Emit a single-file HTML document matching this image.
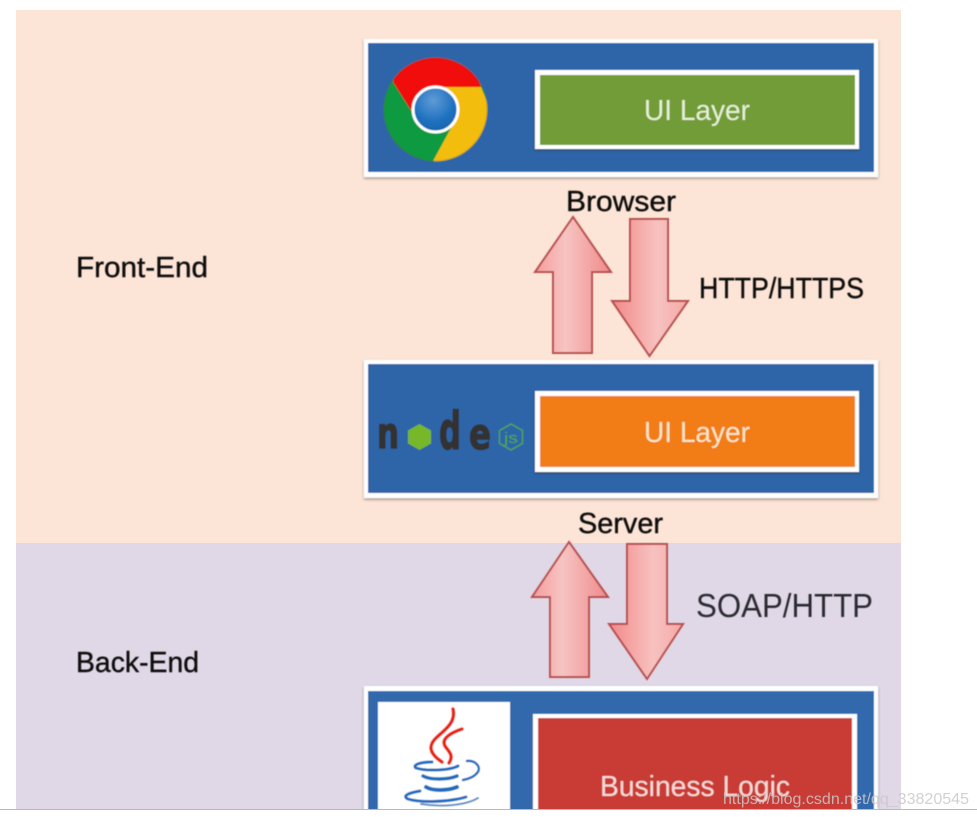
<!DOCTYPE html>
<html>
<head>
<meta charset="utf-8">
<style>
html,body{margin:0;padding:0;background:#fff;width:977px;height:817px;overflow:hidden}
svg{display:block}
text{font-family:"Liberation Sans",sans-serif}
</style>
</head>
<body>
<svg width="977" height="817" viewBox="0 0 977 817" xmlns="http://www.w3.org/2000/svg">
<defs>
<linearGradient id="au" x1="0" x2="1" y1="0" y2="0"><stop offset="0" stop-color="#f59c9c"/><stop offset=".4" stop-color="#f6c4c2"/><stop offset="1" stop-color="#f08a8a"/></linearGradient>
<linearGradient id="ad" x1="0" x2="1" y1="0" y2="0"><stop offset="0" stop-color="#f28888"/><stop offset=".6" stop-color="#f7c2c0"/><stop offset="1" stop-color="#f5a8a6"/></linearGradient>
<radialGradient id="bl" cx=".45" cy=".3" r=".8"><stop offset="0" stop-color="#5f9bd6"/><stop offset=".6" stop-color="#1c70bf"/><stop offset="1" stop-color="#1560a8"/></radialGradient>
<filter id="softer" x="-5%" y="-5%" width="110%" height="110%"><feGaussianBlur stdDeviation="0.55"/></filter>
<filter id="sh" x="-5%" y="-5%" width="110%" height="115%"><feDropShadow dx="0" dy="1.5" stdDeviation="1.2" flood-color="#333" flood-opacity=".5"/></filter>
<clipPath id="cc"><circle cx="435.5" cy="109.5" r="52"/></clipPath>
</defs>

<rect x="16" y="10" width="885" height="533" fill="#fce4d6"/>
<rect x="16" y="543" width="885" height="266" fill="#e0d8e6"/>

<g filter="url(#softer)">
<!-- Box 1 -->
<rect x="364" y="39" width="514" height="138" fill="#fff" filter="url(#sh)"/>
<rect x="368" y="43" width="506" height="129" fill="#2e65a9"/>
<rect x="535" y="70" width="324" height="79" fill="#fff" filter="url(#sh)"/>
<rect x="540" y="75" width="315" height="70" fill="#729c37"/>

<!-- Chrome logo -->
<g clip-path="url(#cc)">
<rect x="380" y="55" width="112" height="112" fill="#0f9a3f"/>
<polygon points="393,82 412,112 436,87 481,87 470,50 400,50" fill="#f20d0d"/>
<polygon points="436,87 481,87 495,120 480,170 433,161 451,128" fill="#f2bd07"/>
</g>
<circle cx="435.5" cy="109.5" r="51.5" fill="none" stroke="#7a5a10" stroke-opacity=".3" stroke-width="1"/>
<circle cx="435.5" cy="109.5" r="22.5" fill="url(#bl)" stroke="#fff" stroke-width="3"/>

<!-- Box 2 -->
<rect x="364" y="360" width="514" height="138" fill="#fff" filter="url(#sh)"/>
<rect x="368" y="364" width="506" height="129" fill="#2e65a9"/>
<rect x="535" y="391" width="324" height="81" fill="#fff" filter="url(#sh)"/>
<rect x="540" y="396" width="315" height="71" fill="#f27c14"/>

<!-- Node logo -->
<text x="377" y="448" font-size="43" font-weight="700" fill="#333" stroke="#333" stroke-width="1.5" textLength="22" lengthAdjust="spacingAndGlyphs" style="font-family:'DejaVu Sans',sans-serif">n</text>
<polygon points="419.5,424 431,430.5 431,443.5 419.5,450 408,443.5 408,430.5" fill="#76b82a"/>
<text x="439" y="449" font-size="52" font-weight="700" fill="#333" stroke="#333" stroke-width="1.5" textLength="22" lengthAdjust="spacingAndGlyphs" style="font-family:'DejaVu Sans',sans-serif">d</text>
<text x="469" y="449" font-size="43" font-weight="700" fill="#333" stroke="#333" stroke-width="1.5" textLength="22" lengthAdjust="spacingAndGlyphs" style="font-family:'DejaVu Sans',sans-serif">e</text>
<polygon points="511,424 522.5,430.5 522.5,443.5 511,450 499.5,443.5 499.5,430.5" fill="none" stroke="#4fa84a" stroke-width="1.3"/>
<text x="504" y="443" font-size="15" fill="#4fa84a" textLength="14" lengthAdjust="spacingAndGlyphs">js</text>

<!-- Box 3 -->
<rect x="364" y="686" width="514" height="140" fill="#fff" filter="url(#sh)"/>
<rect x="368" y="691" width="506" height="130" fill="#3169ad"/>
<rect x="378" y="702" width="132" height="120" fill="#fff"/>
<rect x="533" y="714" width="324" height="110" fill="#fff"/>
<rect x="538" y="718" width="314" height="105" fill="#c93a34"/>

<!-- Java logo -->
<g fill="none" stroke="#e8210f" stroke-linecap="round">
<path d="M453,709 C456,722 446,729 437,737 C427,746 430,754 442,762" stroke-width="3.5"/>
<path d="M462,729 C450,733 441,739 445,746 C449,752 454,755 449,763" stroke-width="3.5"/>
</g>
<g fill="none" stroke="#1c6cc0" stroke-linecap="round">
<path d="M432,762 C420,762 412,765 416,768 C425,771 448,771 458,766" stroke-width="3"/>
<path d="M467,761 C476,760 482,768 477,773 C474,777 468,779 463,780" stroke-width="2.5"/>
<path d="M423,776 C430,780 448,780 457,776" stroke-width="3.5"/>
<path d="M426,787 C432,791 448,791 457,787" stroke-width="4"/>
<path d="M420,791 C408,793 402,796 408,799 C420,803 450,802 466,797" stroke-width="3"/>
<path d="M421,804 C440,807 465,806 478,798" stroke-width="2" stroke="#5b8fc9"/>
</g>

<!-- Arrows -->
<polygon points="573,217 611,272 592,272 592,353 553,353 553,272 535,272" fill="url(#au)" stroke="#b85050" stroke-width="2"/>
<polygon points="630,219 668,219 668,301 688,301 649.5,356 612,301 630,301" fill="url(#ad)" stroke="#b85050" stroke-width="2"/>
<polygon points="569,542 608,597 589,597 589,677 550,677 550,597 532,597" fill="url(#au)" stroke="#b85050" stroke-width="2"/>
<polygon points="627,544 667,544 667,624 683,624 647,679 609,624 627,624" fill="url(#ad)" stroke="#b85050" stroke-width="2"/>

<!-- Labels -->
<g stroke-width=".4">
<text x="76" y="277" font-size="29" fill="#111" stroke="#111" textLength="132" lengthAdjust="spacingAndGlyphs">Front-End</text>
<text x="76" y="672" font-size="29" fill="#111" stroke="#111" textLength="123" lengthAdjust="spacingAndGlyphs">Back-End</text>
<text x="566" y="211" font-size="29" fill="#111" stroke="#111" textLength="110" lengthAdjust="spacingAndGlyphs">Browser</text>
<text x="578" y="533" font-size="29" fill="#111" stroke="#111" textLength="85" lengthAdjust="spacingAndGlyphs">Server</text>
<text x="699" y="298" font-size="29" fill="#111" stroke="#111" textLength="165" lengthAdjust="spacingAndGlyphs">HTTP/HTTPS</text>
<text x="696" y="617" font-size="33" fill="#2a2a30" textLength="177" lengthAdjust="spacingAndGlyphs">SOAP/HTTP</text>
</g>
<text x="644" y="120" font-size="29" fill="#e6f0d4" textLength="106" lengthAdjust="spacingAndGlyphs">UI Layer</text>
<text x="644" y="442" font-size="29" fill="#fde6c8" textLength="106" lengthAdjust="spacingAndGlyphs">UI Layer</text>
<text x="600" y="796" font-size="29" fill="#f6dcd8" textLength="190" lengthAdjust="spacingAndGlyphs">Business Logic</text>
</g>

<!-- bottom strip -->
<rect x="0" y="809" width="977" height="8" fill="#fff"/>
<rect x="0" y="809" width="977" height="1" fill="#b9b9b9"/>
<text x="723" y="804" font-size="16" fill="#c9c9c9" fill-opacity=".85" textLength="246" lengthAdjust="spacingAndGlyphs">https://blog.csdn.net/qq_33820545</text>
</svg>
</body>
</html>
